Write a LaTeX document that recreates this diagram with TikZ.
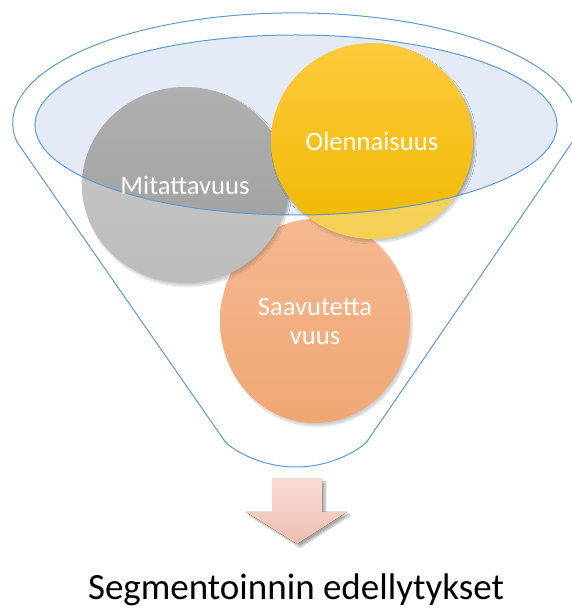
\documentclass[tikz,border=0pt]{standalone}
\usepackage{fontspec}
\setmainfont{Carlito}
\usetikzlibrary{shapes.geometric,shadows.blur}

\definecolor{lidfill}{HTML}{E4EBF6}
\definecolor{funnelblue}{HTML}{5B9BD5}
\definecolor{greytop}{HTML}{B0B0B0}
\definecolor{greybot}{HTML}{9C9C9C}
\definecolor{yeltop}{HTML}{FFCA3C}
\definecolor{yelbot}{HTML}{EFB800}
\definecolor{orgtop}{HTML}{F2965C}
\definecolor{orgbot}{HTML}{E87C30}
\definecolor{arrtop}{HTML}{FADCD4}
\definecolor{arrbot}{HTML}{ECBDB1}

% outline of the funnel body: rim arc, two sides and the rounded bottom
\def\funnelbody{(17,466) arc[start angle=190, end angle=-10, x radius=282, y radius=110]
  -- (368,168) .. controls (364,161) and (334,141) .. (296,141)
  .. controls (258,141) and (228,161) .. (224,168) -- cycle}
\def\funnelmouth{(296,483) ellipse [x radius=261, y radius=90]}

\tikzset{
  bubble/.style={ellipse, draw=none, inner sep=0pt, shading=axis,
    blur shadow={shadow xshift=2pt, shadow yshift=-3pt, shadow opacity=30, shadow blur steps=12}},
  bubbletext/.style={text=white, font=\fontsize{26.6}{29}\selectfont, align=center},
  rim/.style={draw=funnelblue, line width=1pt},
}

\begin{document}
\begin{tikzpicture}[x=1pt, y=1pt]
\useasboundingbox (0,0) rectangle (571,608);

% opening of the funnel
\fill[lidfill] \funnelmouth;

% the three circles in the funnel
\node[bubble, minimum width=190, minimum height=204, top color=orgtop, bottom color=orgbot] (saa) at (315,287) {};
\node[bubble, minimum width=206, minimum height=196, top color=greytop, bottom color=greybot] (mit) at (185,423) {};
\node[bubble, minimum width=202, minimum height=196, top color=yeltop, bottom color=yelbot] (ole) at (372,467) {};

% pale front wall of the funnel (everything outside the opening)
\fill[white, opacity=0.33, even odd rule] \funnelbody \funnelmouth;

% outlines
\draw[rim] \funnelmouth;
\draw[rim, line join=round] \funnelbody;

% labels
\node[bubbletext] (mitlbl) at (mit) {Mitattavuus};
\node[bubbletext] (olelbl) at (ole) {Olennaisuus};
\node[bubbletext] (saalbl) at (saa) {Saavutetta\\vuus};

% downward arrow
\fill[top color=arrtop, bottom color=arrbot,
  blur shadow={shadow xshift=3pt, shadow yshift=-3pt, shadow opacity=35, shadow blur steps=10}]
  (272,129) -- (322,129) -- (322,96) -- (347,96) -- (297,64) -- (246,96) -- (272,96) -- cycle;

\node[anchor=base, inner sep=0pt, font=\fontsize{37}{40}\selectfont] (caption) at (296,9) {Segmentoinnin edellytykset};
\end{tikzpicture}
\end{document}
